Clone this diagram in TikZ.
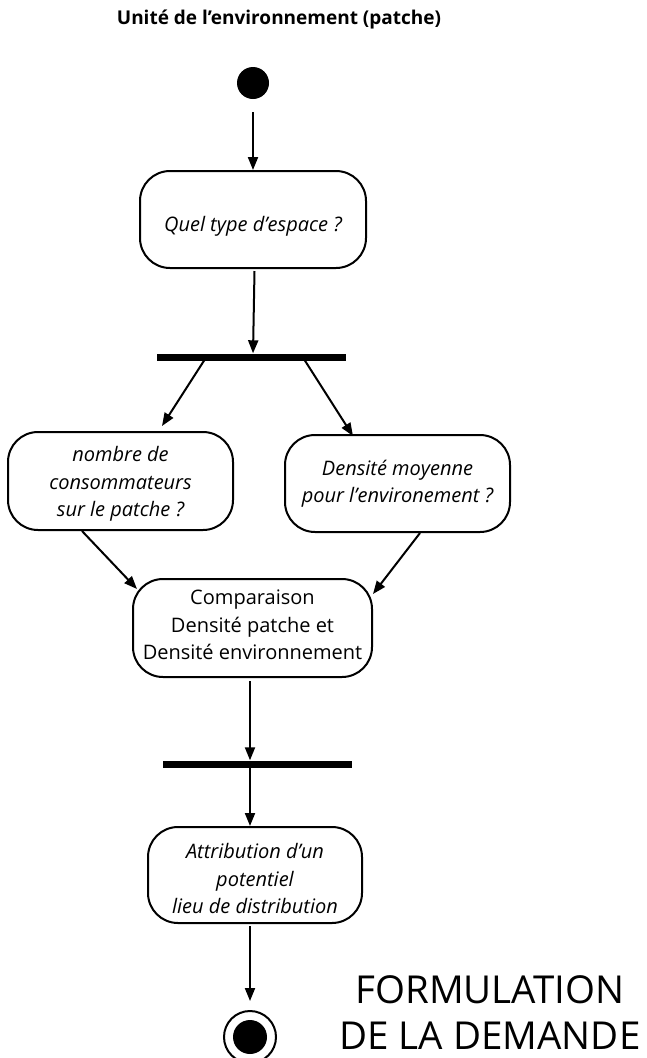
\documentclass[tikz,border=0pt]{standalone}
\usepackage{fontspec}
\setmainfont{Open Sans}
\usetikzlibrary{arrows.meta,calc}
\tikzset{
  every picture/.style={x=1pt,y=-1pt},
  lw/.style={line width=2pt},
  arr/.style={lw,-{Triangle[length=13pt,width=10pt]}},
  actbox/.style={draw,lw,rounded corners=30pt,inner sep=0pt,align=center,
    font=\fontsize{20}{27.5}\selectfont\itshape},
  barnode/.style={fill=black,inner sep=0pt,minimum height=7pt},
}
\begin{document}
\begin{tikzpicture}
\useasboundingbox (0,0) rectangle (646,1058);
\node[font=\fontsize{19}{24}\selectfont\bfseries] (title) at (279,20) {Unité de l'environnement (patche)};
\node[circle,fill=black,minimum size=32pt,inner sep=0pt] (start) at (253,83) {};
\node[actbox,minimum width=226pt,minimum height=97pt] (q1) at (253,219.5) {\rule{0pt}{29pt}Quel type d'espace ?};
\node[barnode,minimum width=189pt] (bar1) at (251.5,357) {};
\node[actbox,minimum width=225pt,minimum height=98pt] (left) at (120.5,481) {\rule{0pt}{21pt}nombre de\\consommateurs\\sur le patche ?};
\node[actbox,minimum width=225pt,minimum height=97pt] (right) at (397.5,483.5) {Densité moyenne\\pour l'environement ?};
\node[actbox,font=\fontsize{20}{27.5}\selectfont,minimum width=239pt,minimum height=98pt] (comp) at (252.5,628) {Comparaison\\Densité patche et\\Densité environnement\rule[-6pt]{0pt}{6pt}};
\node[barnode,minimum width=189pt] (bar2) at (257.5,764) {};
\node[actbox,minimum width=214pt,minimum height=96pt] (attr) at (255,875) {\rule{0pt}{23pt}Attribution d'un\\potentiel\\lieu de distribution};
\node[circle,draw,lw,minimum size=52pt,inner sep=0pt] (end) at (250,1037) {};
\node[circle,fill=black,minimum size=34pt,inner sep=0pt] (endin) at (end.center) {};
\node[font=\fontsize{38.5}{46}\selectfont,align=center] (label) at (490,1013) {FORMULATION\\DE LA DEMANDE};
% connectors
\draw[arr] ([yshift=-13pt]start.south) -- (q1.north);
\draw[arr] ([xshift=1.5pt,yshift=-2pt]q1.south) -- ([xshift=1.5pt]bar1.north);
\draw[arr] ([xshift=-47.5pt]bar1.south) -- ([xshift=41.5pt,yshift=5pt]left.north);
\draw[arr] ([xshift=53.5pt]bar1.south) -- ([xshift=-44.5pt,yshift=-2pt]right.north);
\draw[arr] ([xshift=-38.5pt]left.south) -- ([xshift=5pt,yshift=-11pt]comp.north west);
\draw[arr] ([xshift=22.5pt]right.south) -- ([yshift=-16pt]comp.north east);
\draw[arr] ([xshift=-2.5pt,yshift=-3pt]comp.south) -- ([xshift=-7.5pt]bar2.north);
\draw[arr] ([xshift=-7.5pt]bar2.south) -- ([xshift=-5pt]attr.north);
\draw[arr] ([xshift=-5pt,yshift=-2pt]attr.south) -- ([yshift=9pt]end.north);
\end{tikzpicture}
\end{document}
